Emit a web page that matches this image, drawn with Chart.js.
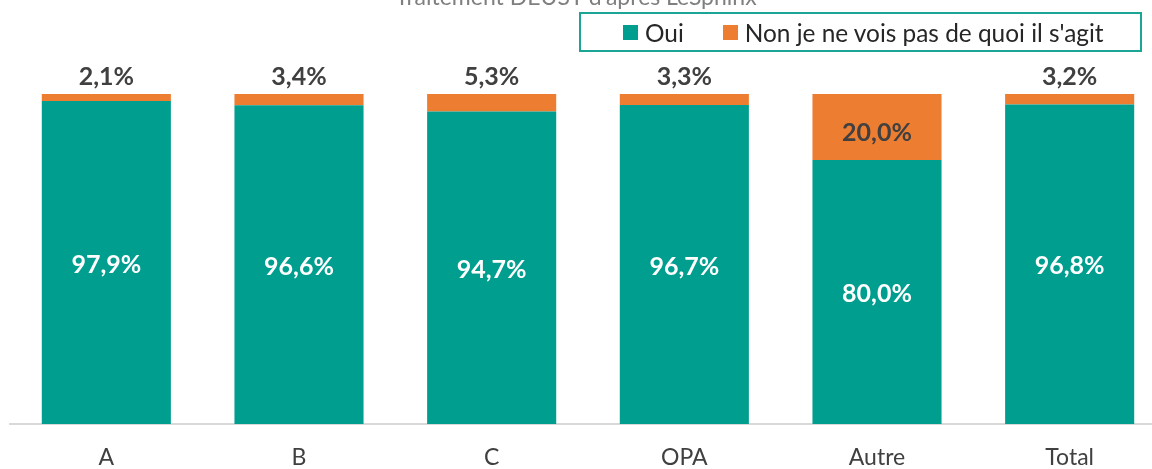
<!DOCTYPE html>
<html>
<head>
<meta charset="utf-8">
<script src="https://cdn.jsdelivr.net/npm/chart.js@4"></script>
<style>
    html, body { margin: 0; padding: 0; background: #fff; overflow: hidden; }
    #wrap { position: relative; width: 1152px; height: 469px; overflow: hidden; }
    #titre { position: absolute; left: 0; width: 1152px; top: -18px; text-align: center;
             font: 23px Lato, sans-serif; color: #7f7f7f; }
    #legende { position: absolute; left: 579px; top: 12px; width: 559px; height: 36px;
               border: 2px solid #1aa595; font: 24.4px Lato, sans-serif; color: #262626;
               display: flex; align-items: center; white-space: nowrap; }
    #legende span.carre { display: inline-block; width: 15px; height: 15px; margin-right: 7px; }
    #legende .item { display: flex; align-items: center; }
    canvas { position: absolute; left: 0; top: 0; }
</style>
</head>
<body>
<div id="wrap">
    <canvas id="graficoDeust" width="1172" height="469" style="width:1172px;height:469px"></canvas>
    <div id="titre">Traitement DEUST d'après LeSphinx</div>
    <div id="legende"></div>
</div>
<script>
    const categories = ["A", "B", "C", "OPA", "Autre", "Total"];
    const oui = [97.9, 96.6, 94.7, 96.7, 80.0, 96.8];
    const non = [2.1, 3.4, 5.3, 3.3, 20.0, 3.2];
    const nomsSeries = ["Oui", "Non je ne vois pas de quoi il s'agit"];
    const couleurs = ['#009e8f', '#ed7d31'];

    // Légende en HTML (boîte encadrée)
    let html = '';
    nomsSeries.forEach((nom, i) => {
        const marge = i === 0 ? 'margin-left:42px;margin-right:39px' : '';
        html += `<div class="item" style="${marge}"><span class="carre" style="background:${couleurs[i]}"></span>${nom}</div>`;
    });
    document.getElementById("legende").innerHTML = html;

    const fmt = v => v.toFixed(1).replace('.', ',') + '%';

    // Étiquettes de données
    const etiquettes = {
        id: 'etiquettes',
        afterDatasetsDraw(chart) {
            const ctx = chart.ctx;
            ctx.save();
            ctx.font = 'bold 25px Lato, sans-serif';
            ctx.textAlign = 'center';
            ctx.textBaseline = 'middle';
            const m0 = chart.getDatasetMeta(0);
            const m1 = chart.getDatasetMeta(1);
            m0.data.forEach((bar, i) => {
                ctx.fillStyle = '#ffffff';
                ctx.fillText(fmt(oui[i]), bar.x, (bar.y + bar.base) / 2 + 2);
            });
            m1.data.forEach((bar, i) => {
                ctx.fillStyle = '#404040';
                const h = bar.base - bar.y;
                if (h > 40) {
                    ctx.fillText(fmt(non[i]), bar.x, (bar.y + bar.base) / 2 + 6);
                } else {
                    ctx.fillText(fmt(non[i]), bar.x, bar.y - 17);
                }
            });
            ctx.restore();
        }
    };

    const ctx1 = document.getElementById("graficoDeust").getContext('2d');
    new Chart(ctx1, {
        type: 'bar',
        data: {
            labels: categories,
            datasets: [
                { label: nomsSeries[0], data: oui, backgroundColor: couleurs[0] },
                { label: nomsSeries[1], data: non, backgroundColor: couleurs[1] }
            ]
        },
        options: {
            responsive: false,
            animation: false,
            events: [],
            layout: { padding: { top: 94, left: 10, right: 6, bottom: 0 } },
            datasets: { bar: { barPercentage: 0.67, categoryPercentage: 1 } },
            plugins: { legend: { display: false }, tooltip: { enabled: false } },
            scales: {
                x: {
                    stacked: true,
                    grid: { display: false, drawTicks: false },
                    border: { color: '#d9d9d9', width: 2 },
                    ticks: { color: '#404040', font: { family: 'Lato', size: 23 }, padding: 20 },
                    afterFit(s) { s.height = 45; }
                },
                y: {
                    stacked: true,
                    display: false,
                    min: 0,
                    max: 100
                }
            }
        },
        plugins: [etiquettes]
    });
</script>
</body>
</html>
